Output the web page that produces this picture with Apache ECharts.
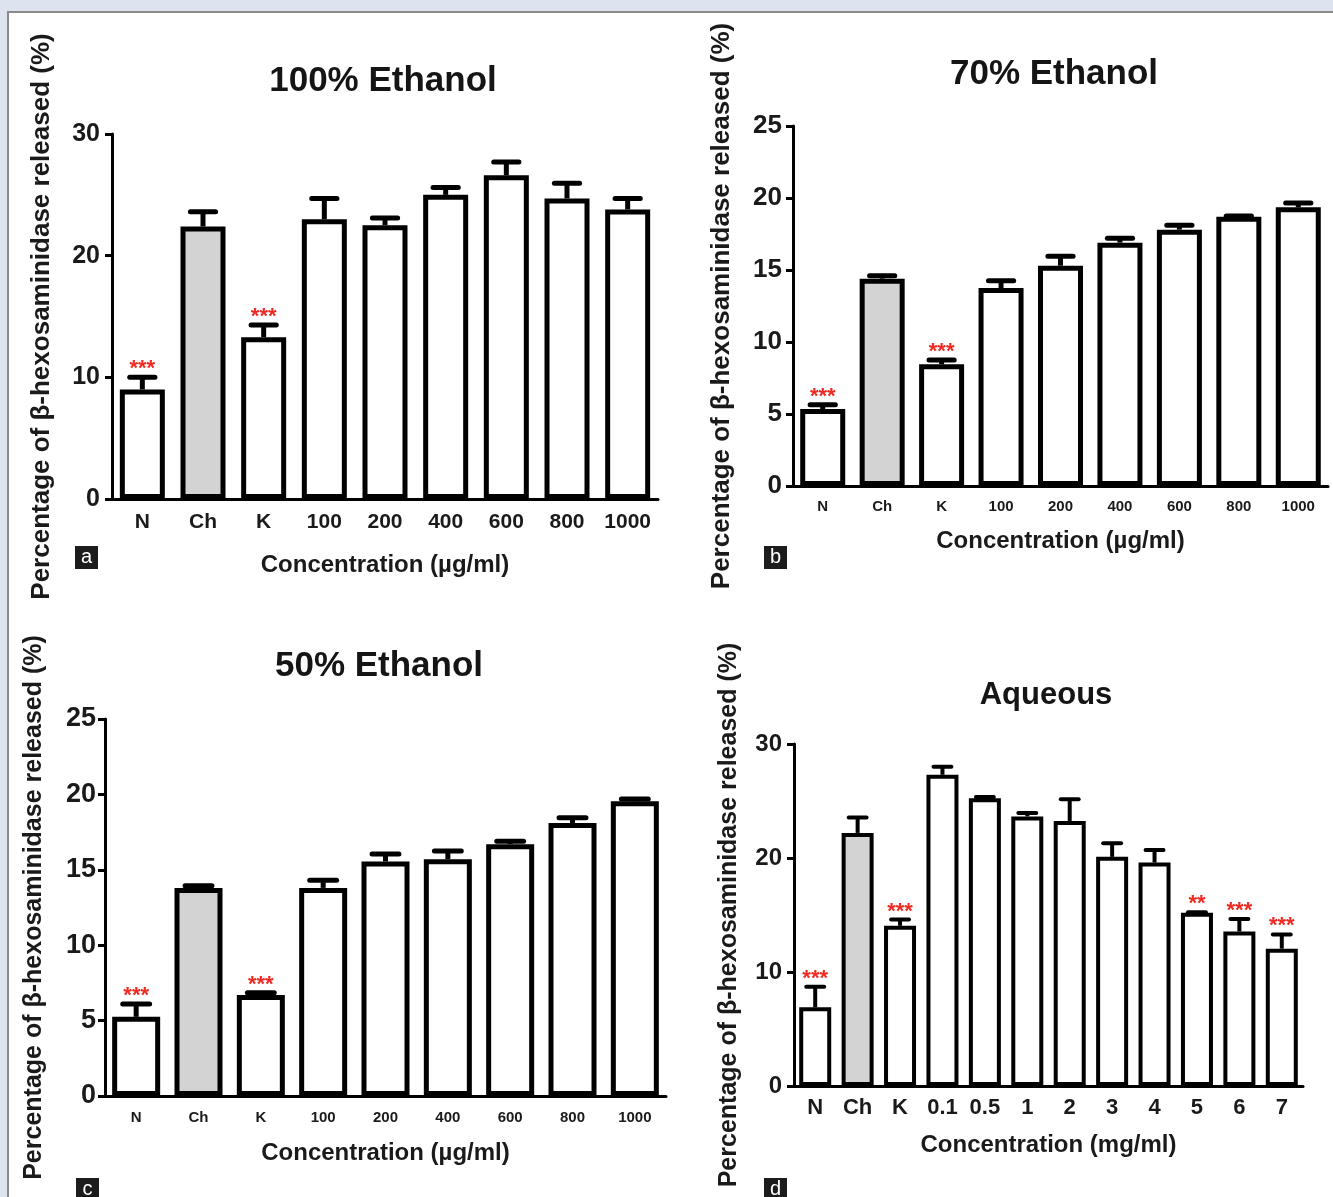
<!DOCTYPE html>
<html><head><meta charset="utf-8">
<script src="https://cdn.jsdelivr.net/npm/echarts@6/dist/echarts.min.js"></script>
<style>html,body{margin:0;padding:0;background:#dee3f0;} #c{width:1333px;height:1197px;}</style>
</head><body><div id="c"></div>
<script>
// ---------- data ----------
const catsEthanol = ['N', 'Ch', 'K', '100', '200', '400', '600', '800', '1000'];
const catsAqueous = ['N', 'Ch', 'K', '0.1', '0.5', '1', '2', '3', '4', '5', '6', '7'];

const mean100 = [9.0, 22.4, 13.3, 23.0, 22.5, 25.0, 26.6, 24.7, 23.8];
const err100  = [1.0, 1.2, 1.0, 1.7, 0.6, 0.6, 1.1, 1.25, 0.9];
const stars100 = ['***', '', '***', '', '', '', '', '', ''];

const mean70 = [5.35, 14.4, 8.45, 13.75, 15.3, 16.9, 17.8, 18.7, 19.35];
const err70  = [0.3, 0.2, 0.3, 0.5, 0.65, 0.3, 0.3, 0.05, 0.3];
const stars70 = ['***', '', '***', '', '', '', '', '', ''];

const mean50 = [5.25, 13.8, 6.7, 13.8, 15.55, 15.7, 16.7, 18.1, 19.55];
const err50  = [0.85, 0.15, 0.15, 0.5, 0.5, 0.55, 0.2, 0.35, 0.15];
const stars50 = ['***', '', '***', '', '', '', '', '', ''];

const meanAq = [6.9, 22.2, 14.05, 27.3, 25.25, 23.65, 23.25, 20.1, 19.6, 15.2, 13.55, 12.05];
const errAq  = [1.8, 1.35, 0.55, 0.7, 0.1, 0.3, 1.9, 1.2, 1.1, 0.05, 1.1, 1.25];
const starsAq = ['***', '', '***', '', '', '', '', '', '', '**', '***', '***'];

const yName = 'Percentage of \u03b2-hexosaminidase released (%)';

// ---------- layout / style ----------
const FONT = '"Liberation Sans", Arial, Helvetica, sans-serif';
const panels = [
  {cats: catsEthanol, mean: mean100, err: err100, stars: stars100, title: '100% Ethanol', xName: 'Concentration (\u00b5g/ml)',
   max: 30, interval: 10, grid: {left: 112, top: 134, width: 546, height: 365}, barWidth: 45, bw: 5,
   xFont: 21, xMargin: 13, yFont: 25, yMargin: 12, xGap: 54, yGap: 57, yNameFont: 26,
   tx: 383, ty: 64, tFont: 35, letter: 'a', lx: 75, ly: 546},
  {cats: catsEthanol, mean: mean70, err: err70, stars: stars70, title: '70% Ethanol', xName: 'Concentration (\u00b5g/ml)',
   max: 25, interval: 5, grid: {left: 793, top: 126, width: 535, height: 360}, barWidth: 45, bw: 5,
   xFont: 15, xMargin: 13, yFont: 26, yMargin: 11, xGap: 43, yGap: 58, yNameFont: 26,
   tx: 1054, ty: 57, tFont: 35, letter: 'b', lx: 764, ly: 546},
  {cats: catsEthanol, mean: mean50, err: err50, stars: stars50, title: '50% Ethanol', xName: 'Concentration (\u00b5g/ml)',
   max: 25, interval: 5, grid: {left: 105, top: 719, width: 561, height: 377}, barWidth: 48, bw: 5,
   xFont: 15, xMargin: 14, yFont: 27, yMargin: 9, xGap: 45, yGap: 58, yNameFont: 25,
   tx: 379, ty: 649, tFont: 35, letter: 'c', lx: 76, ly: 1178},
  {cats: catsAqueous, mean: meanAq, err: errAq, stars: starsAq, title: 'Aqueous', xName: 'Concentration (mg/ml)',
   max: 30, interval: 10, grid: {left: 794, top: 744, width: 509, height: 342}, barWidth: 32, bw: 4,
   xFont: 22, xMargin: 11, yFont: 24, yMargin: 12, xGap: 47, yGap: 52, yNameFont: 25,
   tx: 1046, ty: 680, tFont: 31, letter: 'd', lx: 764, ly: 1178}
];

const grid = [], xAxis = [], yAxis = [], series = [], title = [];
const graphic = [{type: 'rect', z: -100, shape: {x: 8, y: 12, width: 1340, height: 1200},
  style: {fill: '#ffffff', stroke: '#8a8a8a', lineWidth: 2}}];

panels.forEach((p, i) => {
  grid.push(Object.assign({containLabel: false}, p.grid));
  title.push({text: p.title, left: p.tx, top: p.ty, textAlign: 'center', padding: 0,
    textStyle: {fontFamily: FONT, fontWeight: 'bold', fontSize: p.tFont, color: '#151515'}});
  xAxis.push({type: 'category', gridIndex: i, data: p.cats,
    axisLine: {lineStyle: {color: '#000', width: 3}},
    axisTick: {alignWithLabel: true, length: 7, lineStyle: {color: '#000', width: 3}},
    axisLabel: {color: '#1a1a1a', fontWeight: 'bold', fontSize: p.xFont, margin: p.xMargin, fontFamily: FONT, interval: 0},
    name: p.xName, nameLocation: 'middle', nameGap: p.xGap,
    nameTextStyle: {color: '#1a1a1a', fontWeight: 'bold', fontSize: 24, fontFamily: FONT}});
  yAxis.push({type: 'value', gridIndex: i, min: 0, max: p.max, interval: p.interval,
    splitLine: {show: false},
    axisLine: {show: true, lineStyle: {color: '#000', width: 3}},
    axisTick: {show: true, length: 7, lineStyle: {color: '#000', width: 3}},
    axisLabel: {color: '#1a1a1a', fontWeight: 'bold', fontSize: p.yFont, margin: p.yMargin, fontFamily: FONT},
    name: yName, nameLocation: 'middle', nameRotate: 90, nameGap: p.yGap,
    nameTextStyle: {color: '#1a1a1a', fontWeight: 'bold', fontSize: p.yNameFont, fontFamily: FONT}});
  series.push({type: 'bar', xAxisIndex: i, yAxisIndex: i, data: p.mean, barWidth: p.barWidth,
    itemStyle: {color: (prm) => prm.name === 'Ch' ? '#d3d3d3' : '#ffffff', borderColor: '#000', borderWidth: p.bw},
    z: 3});
  series.push({type: 'custom', xAxisIndex: i, yAxisIndex: i, z: 4,
    data: p.mean.map((m, k) => [k, m, p.err[k]]),
    encode: {x: 0, y: 1},
    renderItem: (params, api) => {
      const k = api.value(0), m = api.value(1), e = api.value(2);
      const base = api.coord([k, m]);
      const top = api.coord([k, m + e]);
      const half = p.barWidth * 0.28;
      const children = [
        {type: 'line', shape: {x1: base[0], y1: base[1], x2: top[0], y2: top[1]}, style: {stroke: '#000', lineWidth: p.bw}},
        {type: 'line', shape: {x1: top[0] - half, y1: top[1], x2: top[0] + half, y2: top[1]}, style: {stroke: '#000', lineWidth: p.bw, lineCap: 'round'}}
      ];
      const s = p.stars[params.dataIndex];
      if (s) {
        children.push({type: 'text', style: {text: s, x: top[0], y: top[1] - 8, align: 'center', verticalAlign: 'middle',
          fill: '#ee2a22', font: 'bold 22px ' + FONT}});
      }
      return {type: 'group', children};
    }});
  graphic.push({type: 'group', children: [
    {type: 'rect', shape: {x: p.lx, y: p.ly, width: 23, height: 23}, style: {fill: '#1c1c1c'}},
    {type: 'text', style: {text: p.letter, x: p.lx + 11.5, y: p.ly + 11.5, align: 'center', verticalAlign: 'middle',
      fill: '#ffffff', font: '20px ' + FONT}}
  ]});
});

const chart = echarts.init(document.getElementById('c'));
chart.setOption({animation: false, backgroundColor: '#dee3f0', title, grid, xAxis, yAxis, series, graphic});
</script></body></html>
